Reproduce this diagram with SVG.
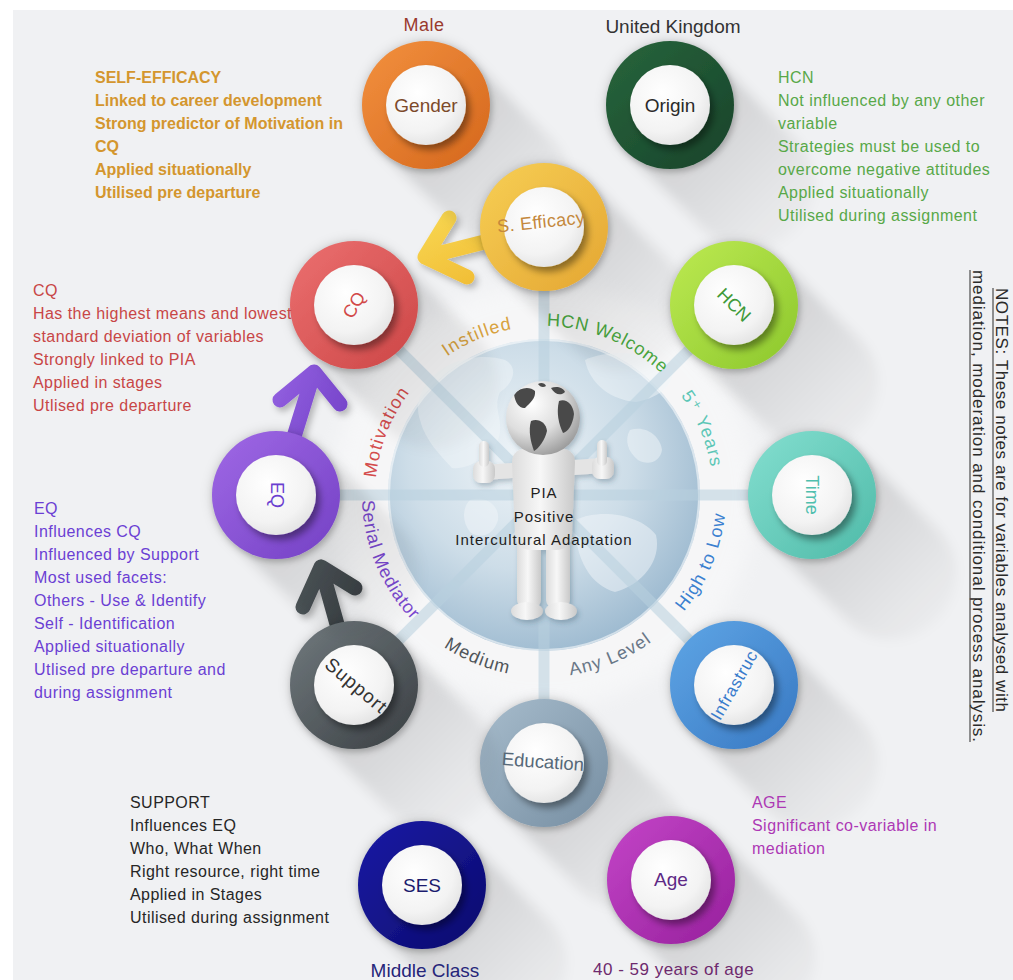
<svg xmlns="http://www.w3.org/2000/svg" xmlns:xlink="http://www.w3.org/1999/xlink" width="1013" height="980" viewBox="0 0 1013 980">
  <defs>
    <style>
      .t { font-family: "Liberation Sans", Arial, sans-serif; }
      .note { font-family: "Liberation Sans", Arial, sans-serif; font-size: 16px; letter-spacing: 0.45px; }
      .arc { font-family: "Liberation Sans", "DejaVu Sans", Arial, sans-serif; font-size: 18px; letter-spacing: 1.2px; }
      .lbl { font-family: "Liberation Sans", Arial, sans-serif; font-size: 19px; text-anchor: middle; }
      .btn { fill: url(#gBtn); filter: url(#btnSh); }
      .lsh { fill: url(#gLong); filter: url(#blur6); }
      .spoke { stroke: #b9d1df; stroke-width: 11; opacity: 0.55; }
      .arrow { fill: none; stroke-width: 15; stroke-linecap: round; stroke-linejoin: round; filter: url(#arrSh); }
      .limb { fill: url(#gBody); }
    </style>

    <!-- ring colours: light top-left to dark bottom-right -->
    <linearGradient id="gGender" x1="0" y1="0" x2="1" y2="1"><stop offset="0" stop-color="#f3913f"/><stop offset="1" stop-color="#d4661c"/></linearGradient>
    <linearGradient id="gOrigin" x1="0" y1="0" x2="1" y2="1"><stop offset="0" stop-color="#28653c"/><stop offset="1" stop-color="#17432a"/></linearGradient>
    <linearGradient id="gSeff" x1="0" y1="0" x2="1" y2="1"><stop offset="0" stop-color="#f7cf55"/><stop offset="1" stop-color="#e4a632"/></linearGradient>
    <linearGradient id="gCQ" x1="0" y1="0" x2="1" y2="1"><stop offset="0" stop-color="#ec7070"/><stop offset="1" stop-color="#cc4646"/></linearGradient>
    <linearGradient id="gHCN" x1="0" y1="0" x2="1" y2="1"><stop offset="0" stop-color="#bdea52"/><stop offset="1" stop-color="#8cc72c"/></linearGradient>
    <linearGradient id="gTime" x1="0" y1="0" x2="1" y2="1"><stop offset="0" stop-color="#84dfd0"/><stop offset="1" stop-color="#4fbaa8"/></linearGradient>
    <linearGradient id="gInfra" x1="0" y1="0" x2="1" y2="1"><stop offset="0" stop-color="#5fa6e6"/><stop offset="1" stop-color="#3878c2"/></linearGradient>
    <linearGradient id="gEdu" x1="0" y1="0" x2="1" y2="1"><stop offset="0" stop-color="#a7bccc"/><stop offset="1" stop-color="#768ea2"/></linearGradient>
    <linearGradient id="gSupport" x1="0" y1="0" x2="1" y2="1"><stop offset="0" stop-color="#717a7e"/><stop offset="1" stop-color="#393e42"/></linearGradient>
    <linearGradient id="gEQ" x1="0" y1="0" x2="1" y2="1"><stop offset="0" stop-color="#a069e6"/><stop offset="1" stop-color="#7340c4"/></linearGradient>
    <linearGradient id="gSES" x1="0" y1="0" x2="1" y2="1"><stop offset="0" stop-color="#1c1ca6"/><stop offset="1" stop-color="#0a0a6c"/></linearGradient>
    <linearGradient id="gAge" x1="0" y1="0" x2="1" y2="1"><stop offset="0" stop-color="#c445c8"/><stop offset="1" stop-color="#96209c"/></linearGradient>

    <!-- arrow colours -->
    <linearGradient id="gArrY" x1="0" y1="0" x2="1" y2="1"><stop offset="0" stop-color="#f8d650"/><stop offset="1" stop-color="#efb62e"/></linearGradient>
    <linearGradient id="gArrP" x1="0" y1="0" x2="1" y2="1"><stop offset="0" stop-color="#9360e0"/><stop offset="1" stop-color="#6b3ac2"/></linearGradient>
    <linearGradient id="gArrD" x1="0" y1="0" x2="1" y2="1"><stop offset="0" stop-color="#51595d"/><stop offset="1" stop-color="#2f3438"/></linearGradient>

    <radialGradient id="gBtn" cx="0.4" cy="0.35" r="0.7"><stop offset="0" stop-color="#ffffff"/><stop offset="0.7" stop-color="#f3f3f3"/><stop offset="1" stop-color="#e2e2e2"/></radialGradient>
    <linearGradient id="gLong" x1="0.25" y1="0.25" x2="1" y2="1"><stop offset="0" stop-color="#000" stop-opacity="0.16"/><stop offset="1" stop-color="#000" stop-opacity="0"/></linearGradient>

    <radialGradient id="gGlobe" cx="0.42" cy="0.38" r="0.65"><stop offset="0" stop-color="#eef4f8"/><stop offset="0.55" stop-color="#cddde8"/><stop offset="1" stop-color="#9dbad0"/></radialGradient>
    <radialGradient id="gHead" cx="0.35" cy="0.3" r="0.75"><stop offset="0" stop-color="#ffffff"/><stop offset="0.55" stop-color="#dedede"/><stop offset="1" stop-color="#9b9b9b"/></radialGradient>
    <linearGradient id="gBody" x1="0" y1="0" x2="1" y2="0"><stop offset="0" stop-color="#dcdcdc"/><stop offset="0.45" stop-color="#f7f7f7"/><stop offset="1" stop-color="#c9c9c9"/></linearGradient>

    <filter id="blur6" x="-50%" y="-50%" width="200%" height="200%"><feGaussianBlur stdDeviation="6"/></filter>
    <filter id="blur10" x="-30%" y="-30%" width="160%" height="160%"><feGaussianBlur stdDeviation="10"/></filter>
    <filter id="btnSh" x="-40%" y="-40%" width="180%" height="180%"><feDropShadow dx="4" dy="5" stdDeviation="3.5" flood-color="#000" flood-opacity="0.4"/></filter>
    <filter id="ringSh" x="-30%" y="-30%" width="160%" height="160%"><feDropShadow dx="2" dy="3" stdDeviation="3" flood-color="#000" flood-opacity="0.25"/></filter>
    <filter id="arrSh" x="-30%" y="-30%" width="160%" height="160%"><feDropShadow dx="3" dy="4" stdDeviation="3" flood-color="#000" flood-opacity="0.25"/></filter>
    <filter id="figSh" x="-30%" y="-30%" width="160%" height="160%"><feDropShadow dx="2" dy="3" stdDeviation="2.5" flood-color="#27465a" flood-opacity="0.3"/></filter>

    <!-- long diagonal shadow cast by every round node (r = 64) -->
    <path id="lsh" d="M-45.3,45.3 L34.7,125.3 A64,64 0 0 0 125.3,34.7 L45.3,-45.3 A64,64 0 0 0 -45.3,45.3 Z"/>

    <!-- baselines for the curved labels around the globe -->
    <path id="arcU" d="M375,495 A169,169 0 0 1 713,495"/>
    <path id="arcL" d="M362,495 A182,182 0 0 0 726,495"/>

    <clipPath id="headClip"><circle cx="543" cy="418" r="37"/></clipPath>
  </defs>

  <!-- page -->
  <rect width="1013" height="980" fill="#ffffff"/>
  <rect x="13" y="10" width="1000" height="970" fill="#f0f1f3"/>

  <!-- globe hub -->
  <g id="hub">
    <circle cx="544" cy="495" r="212" fill="#ffffff" opacity="0.4" filter="url(#blur10)"/>
    <circle cx="544" cy="495" r="156" fill="url(#gGlobe)"/>
    <g fill="#f1f6f9" opacity="0.5">
      <path d="M430,380 C445,360 480,352 505,360 C520,368 512,385 500,392 C492,410 505,420 498,440 C490,455 470,470 452,468 C440,455 425,440 420,420 C415,405 420,390 430,380 Z"/>
      <path d="M585,360 C610,348 655,352 672,368 C676,385 658,398 636,402 C612,400 590,385 585,360 Z"/>
      <path d="M575,520 C600,508 640,514 656,535 C662,560 642,585 615,592 C592,586 574,560 575,520 Z"/>
      <path d="M470,500 C485,495 500,505 498,520 C494,535 480,540 470,532 C462,522 462,508 470,500 Z"/>
      <path d="M630,430 C645,425 660,435 662,450 C660,462 648,466 638,460 C628,452 624,440 630,430 Z"/>
    </g>
    <circle cx="544" cy="495" r="155" fill="none" stroke="#ffffff" stroke-opacity="0.55" stroke-width="2"/>
  </g>

  <!-- connectors: spokes from the hub and the three influence arrows -->
  <g id="connectors">
    <line class="spoke" x1="544" y1="495" x2="544" y2="227"/>
    <line class="spoke" x1="544" y1="495" x2="734" y2="305"/>
    <line class="spoke" x1="544" y1="495" x2="812" y2="495"/>
    <line class="spoke" x1="544" y1="495" x2="734" y2="685"/>
    <line class="spoke" x1="544" y1="495" x2="544" y2="763"/>
    <line class="spoke" x1="544" y1="495" x2="354" y2="685"/>
    <line class="spoke" x1="544" y1="495" x2="276" y2="495"/>
    <line class="spoke" x1="544" y1="495" x2="354" y2="305"/>

    <path id="arrow-seff-cq" class="arrow" stroke="url(#gArrY)" d="M544,227 L425,257 M449,218 L425,257 L467,277"/>
    <path id="arrow-eq-cq" class="arrow" stroke="url(#gArrP)" d="M276,495 L314,372 M280,400 L314,372 L340,404"/>
    <path id="arrow-support-eq" class="arrow" stroke="url(#gArrD)" d="M354,685 L321,567 M303,607 L321,567 L355,588"/>
  </g>

  <!-- central figure: globe-headed person giving thumbs up -->
  <g id="pia" filter="url(#figSh)">
    <rect class="limb" x="517" y="528" width="24" height="82" rx="11"/>
    <rect class="limb" x="546" y="528" width="24" height="82" rx="11"/>
    <ellipse class="limb" cx="527" cy="611" rx="16" ry="9"/>
    <ellipse class="limb" cx="561" cy="611" rx="16" ry="9"/>
    <path d="M519,470 L491,472 M567,468 L596,466" stroke="#e4e4e4" stroke-width="15" stroke-linecap="round" fill="none"/>
    <path class="limb" d="M512,462 C512,452 520,448 530,448 L557,448 C567,448 575,452 575,462 L572,535 C571,545 565,550 556,550 L531,550 C522,550 516,545 515,535 Z"/>
    <rect class="limb" x="473" y="461" width="22" height="22" rx="8"/>
    <rect class="limb" x="479" y="441" width="10" height="26" rx="5"/>
    <rect class="limb" x="592" y="457" width="22" height="22" rx="8"/>
    <rect class="limb" x="597" y="440" width="10" height="26" rx="5"/>
    <circle cx="543" cy="418" r="37" fill="url(#gHead)"/>
    <g clip-path="url(#headClip)" fill="#4a4a4a">
      <path d="M514,394 C520,387 530,386 535,391 C536,398 530,403 525,408 C520,409 515,403 514,394 Z"/>
      <path d="M531,421 C538,418 546,422 547,431 C545,440 539,448 534,451 C531,443 528,431 531,421 Z"/>
      <path d="M559,401 C566,398 573,404 574,414 C573,424 568,432 563,433 C559,425 556,413 559,401 Z"/>
      <path d="M551,388 C556,386 563,387 565,392 C561,396 555,395 551,388 Z"/>
      <path d="M538,384 C541,382 545,383 546,386 C543,388 540,387 538,384 Z"/>
    </g>
  </g>
  <g id="pia-label" class="t" font-size="15" fill="#1e1e1e" text-anchor="middle" letter-spacing="1">
    <text x="544" y="498">PIA</text>
    <text x="544" y="522">Positive</text>
    <text x="544" y="545">Intercultural Adaptation</text>
  </g>

  <!-- curved relationship labels around the hub -->
  <g id="arc-labels" class="arc" text-anchor="middle">
    <text fill="#d44c4c"><textPath href="#arcU" startOffset="64">Motivation</textPath></text>
    <text fill="#d8a23e"><textPath href="#arcU" startOffset="198">Instilled</textPath></text>
    <text fill="#4aa840" letter-spacing="0.8"><textPath href="#arcU" startOffset="332">HCN Welcome</textPath></text>
    <text fill="#5cc6b6"><textPath href="#arcU" startOffset="464">5⁺ Years</textPath></text>
    <text fill="#7a48d0" letter-spacing="0.8"><textPath href="#arcL" startOffset="72">Serial Mediator</textPath></text>
    <text fill="#50555a"><textPath href="#arcL" startOffset="215">Medium</textPath></text>
    <text fill="#6a7888"><textPath href="#arcL" startOffset="357">Any Level</textPath></text>
    <text fill="#3a80d0"><textPath href="#arcL" startOffset="499">High to Low</textPath></text>
  </g>

  <!-- nodes -->
  <g id="node-gender">
    <use href="#lsh" x="426" y="105" class="lsh"/>
    <circle cx="426" cy="105" r="64" fill="url(#gGender)" filter="url(#ringSh)"/>
    <circle cx="426" cy="105" r="40" class="btn"/>
    <text class="lbl" x="426" y="112" fill="#7d4a2a">Gender</text>
    <text class="t" x="424" y="31" font-size="18" letter-spacing="0.5" text-anchor="middle" fill="#9a3a2e">Male</text>
  </g>

  <g id="node-origin">
    <use href="#lsh" x="670" y="105" class="lsh"/>
    <circle cx="670" cy="105" r="64" fill="url(#gOrigin)" filter="url(#ringSh)"/>
    <circle cx="670" cy="105" r="40" class="btn"/>
    <text class="lbl" x="670" y="112" fill="#2a2a2a">Origin</text>
    <text class="t" x="673" y="33" font-size="19" text-anchor="middle" fill="#333333">United Kingdom</text>
  </g>

  <g id="node-seff">
    <use href="#lsh" x="544" y="227" class="lsh"/>
    <circle cx="544" cy="227" r="64" fill="url(#gSeff)" filter="url(#ringSh)"/>
    <circle cx="544" cy="227" r="40" class="btn"/>
    <text class="t" font-size="18" letter-spacing="0.3" text-anchor="middle" fill="#c4883c" transform="translate(541,222) rotate(-6)" y="6">S. Efficacy</text>
  </g>

  <g id="node-cq">
    <use href="#lsh" x="354" y="305" class="lsh"/>
    <circle cx="354" cy="305" r="64" fill="url(#gCQ)" filter="url(#ringSh)"/>
    <circle cx="354" cy="305" r="40" class="btn"/>
    <text class="t" font-size="18" text-anchor="middle" fill="#d24848" transform="translate(354,305) rotate(-60)" y="6">CQ</text>
  </g>

  <g id="node-hcn">
    <use href="#lsh" x="734" y="305" class="lsh"/>
    <circle cx="734" cy="305" r="64" fill="url(#gHCN)" filter="url(#ringSh)"/>
    <circle cx="734" cy="305" r="40" class="btn"/>
    <text class="t" font-size="18" text-anchor="middle" fill="#3f9a3a" transform="translate(734,305) rotate(45)" y="6">HCN</text>
  </g>

  <g id="node-time">
    <use href="#lsh" x="812" y="495" class="lsh"/>
    <circle cx="812" cy="495" r="64" fill="url(#gTime)" filter="url(#ringSh)"/>
    <circle cx="812" cy="495" r="40" class="btn"/>
    <text class="t" font-size="18" text-anchor="middle" fill="#4fbfae" transform="translate(812,495) rotate(90)" y="6">Time</text>
  </g>

  <g id="node-infra">
    <use href="#lsh" x="734" y="685" class="lsh"/>
    <circle cx="734" cy="685" r="64" fill="url(#gInfra)" filter="url(#ringSh)"/>
    <circle cx="734" cy="685" r="40" class="btn"/>
    <text class="t" font-size="17" letter-spacing="0.6" text-anchor="middle" fill="#3a7ccc" transform="translate(734,685) rotate(-60)" y="6">Infrastruc</text>
  </g>

  <g id="node-edu">
    <use href="#lsh" x="544" y="763" class="lsh"/>
    <circle cx="544" cy="763" r="64" fill="url(#gEdu)" filter="url(#ringSh)"/>
    <circle cx="544" cy="763" r="40" class="btn"/>
    <text class="t" font-size="18.5" text-anchor="middle" fill="#566878" transform="translate(543,762) rotate(4)" y="6">Education</text>
  </g>

  <g id="node-support">
    <use href="#lsh" x="354" y="685" class="lsh"/>
    <circle cx="354" cy="685" r="64" fill="url(#gSupport)" filter="url(#ringSh)"/>
    <circle cx="354" cy="685" r="40" class="btn"/>
    <text class="t" font-size="19" letter-spacing="1.2" text-anchor="middle" fill="#333333" transform="translate(356,686) rotate(40)" y="6">Support</text>
  </g>

  <g id="node-eq">
    <use href="#lsh" x="276" y="495" class="lsh"/>
    <circle cx="276" cy="495" r="64" fill="url(#gEQ)" filter="url(#ringSh)"/>
    <circle cx="276" cy="495" r="40" class="btn"/>
    <text class="t" font-size="18" text-anchor="middle" fill="#6a3fd0" transform="translate(277,495) rotate(90)" y="6">EQ</text>
  </g>

  <g id="node-ses">
    <use href="#lsh" x="422" y="885" class="lsh"/>
    <circle cx="422" cy="885" r="64" fill="url(#gSES)" filter="url(#ringSh)"/>
    <circle cx="422" cy="885" r="40" class="btn"/>
    <text class="lbl" x="422" y="892" fill="#1c1c6e">SES</text>
    <text class="t" x="425" y="977" font-size="19" text-anchor="middle" fill="#26267a">Middle Class</text>
  </g>

  <g id="node-age">
    <use href="#lsh" x="671" y="880" class="lsh"/>
    <circle cx="671" cy="880" r="64" fill="url(#gAge)" filter="url(#ringSh)"/>
    <circle cx="671" cy="880" r="40" class="btn"/>
    <text class="lbl" x="671" y="886" fill="#5e2a86">Age</text>
    <text class="t" x="593" y="975" font-size="17" letter-spacing="0.5" fill="#6e2a6e">40 - 59 years of age</text>
  </g>

  <!-- explanatory notes -->
  <g id="note-seff" class="t" font-size="16" font-weight="bold" fill="#d4962e">
    <text x="95" y="83">SELF-EFFICACY</text>
    <text x="95" y="106">Linked to career development</text>
    <text x="95" y="129">Strong predictor of Motivation in</text>
    <text x="95" y="152">CQ</text>
    <text x="95" y="175">Applied situationally</text>
    <text x="95" y="198">Utilised pre departure</text>
  </g>

  <g id="note-hcn" class="note" fill="#58a848">
    <text x="778" y="83">HCN</text>
    <text x="778" y="106">Not influenced by any other</text>
    <text x="778" y="129">variable</text>
    <text x="778" y="152">Strategies must be used to</text>
    <text x="778" y="175">overcome negative attitudes</text>
    <text x="778" y="198">Applied situationally</text>
    <text x="778" y="221">Utilised during assignment</text>
  </g>

  <g id="note-cq" class="note" fill="#c84646">
    <text x="33" y="296">CQ</text>
    <text x="33" y="319">Has the highest means and lowest</text>
    <text x="33" y="342">standard deviation of variables</text>
    <text x="33" y="365">Strongly linked to PIA</text>
    <text x="33" y="388">Applied in stages</text>
    <text x="33" y="411">Utlised pre departure</text>
  </g>

  <g id="note-eq" class="note" fill="#6b3fd4">
    <text x="34" y="514">EQ</text>
    <text x="34" y="537">Influences CQ</text>
    <text x="34" y="560">Influenced by Support</text>
    <text x="34" y="583">Most used facets:</text>
    <text x="34" y="606">Others - Use &amp; Identify</text>
    <text x="34" y="629">Self - Identification</text>
    <text x="34" y="652">Applied situationally</text>
    <text x="34" y="675">Utlised pre departure and</text>
    <text x="34" y="698">during assignment</text>
  </g>

  <g id="note-support" class="note" fill="#262626" letter-spacing="0.25">
    <text x="130" y="808">SUPPORT</text>
    <text x="130" y="831">Influences EQ</text>
    <text x="130" y="854">Who, What When</text>
    <text x="130" y="877">Right resource, right time</text>
    <text x="130" y="900">Applied in Stages</text>
    <text x="130" y="923">Utilised during assignment</text>
  </g>

  <g id="note-age" class="note" fill="#ad38b5" letter-spacing="0.5">
    <text x="752" y="808">AGE</text>
    <text x="752" y="831">Significant co-variable in</text>
    <text x="752" y="854">mediation</text>
  </g>

  <g id="note-method" class="t" font-size="17" fill="#2a2a2a">
    <text transform="translate(996,288) rotate(90)" textLength="424" lengthAdjust="spacing">NOTES: These notes are for variables analysed with</text>
    <text transform="translate(973,270) rotate(90)" textLength="472" lengthAdjust="spacing">mediation, moderation and conditional process analysis.</text>
    <line x1="993" y1="288" x2="993" y2="712" stroke="#2a2a2a" stroke-width="1"/>
    <line x1="970" y1="270" x2="970" y2="742" stroke="#2a2a2a" stroke-width="1"/>
  </g>
</svg>
